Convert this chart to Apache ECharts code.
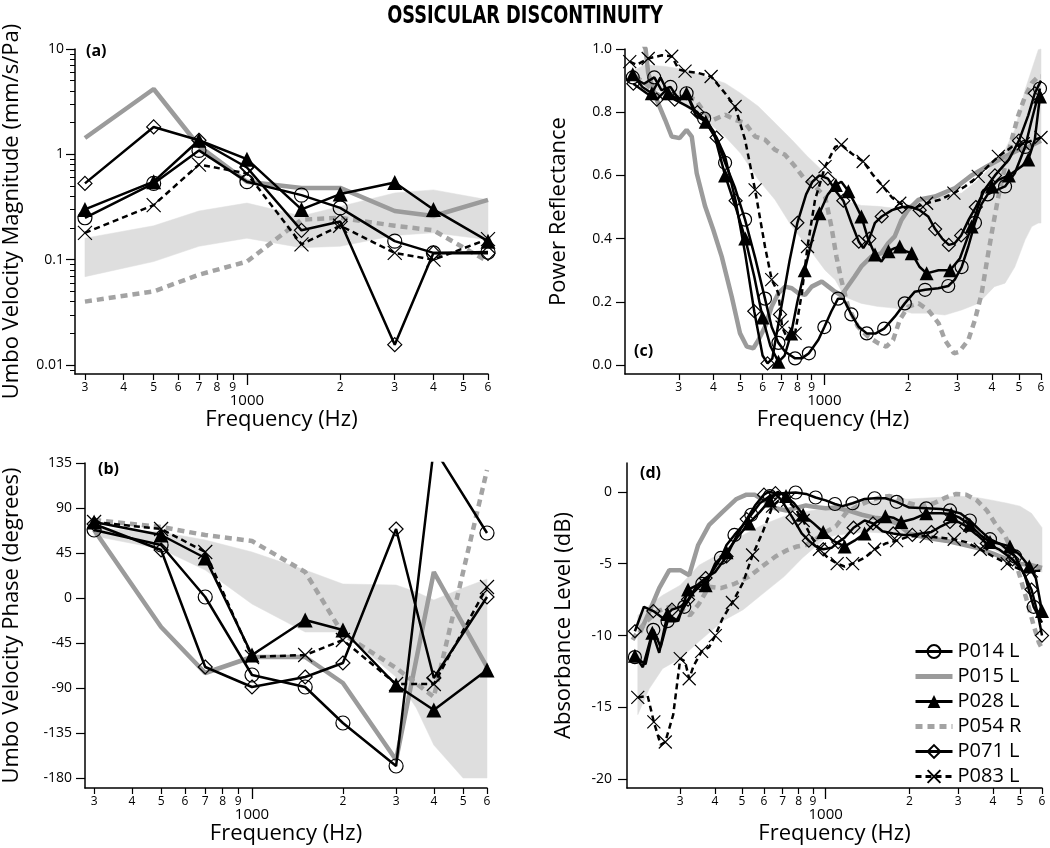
<!DOCTYPE html>
<html><head><meta charset="utf-8">
<script src="https://cdn.jsdelivr.net/npm/echarts@6/dist/echarts.min.js"></script>
<style>html,body{margin:0;padding:0;background:#fff}#c{width:1050px;height:848px}</style>
</head><body><div id="c"></div>
<script>
// ---------------- DATA ----------------
const NAMES = ['P014 L','P015 L','P028 L','P054 R','P071 L','P083 L'];

// x tick labels (Hz)
const tickMinorF = [300,400,500,600,700,800,900,2000,3000,4000,5000,6000];
const tickLabelF = [300,400,500,600,700,800,900,1000,2000,3000,4000,5000,6000];
const tickLabelTxt = ['3','4','5','6','7','8','9','1000','2','3','4','5','6'];
const magTickVal = [0.01,0.1,1,10];
const magTickTxt = ['0.01','0.1','1','10'];
const phaseTicks = [135,90,45,0,-45,-90,-135,-180];
const reflTicks = [0,0.2,0.4,0.6,0.8,1.0];
const absTicks = [0,-5,-10,-15,-20];

// (a) umbo velocity magnitude (mm/s/Pa)
const freqAB = [300,500,700,1000,1500,2000,3000,4000,6000];
const magP014 = [0.25,0.53,1.09,0.55,0.41,0.31,0.15,0.116,0.118];
const magP015 = [1.43,4.17,1.2,0.55,0.48,0.48,0.29,0.26,0.37];
const magP028 = [0.30,0.55,1.36,0.90,0.30,0.42,0.54,0.30,0.15];
const magP054 = [0.040,0.050,0.072,0.096,0.24,0.25,0.21,0.19,0.096];
const magP071 = [0.53,1.82,1.36,0.75,0.19,0.23,0.0156,0.116,0.115];
const magP083 = [0.18,0.33,0.80,0.66,0.14,0.21,0.116,0.10,0.157];
const magBandLow  = [0.069,0.096,0.134,0.16,0.13,0.134,0.17,0.18,0.155];
const magBandHigh = [0.16,0.21,0.29,0.345,0.26,0.32,0.43,0.46,0.37];

// (b) umbo velocity phase (degrees)
const phP014 = [68,53,1,-77,-89,-125,-168,150,65];
const phP015 = [68,-29,-75,-59,-59,-85,-162,26,-69];
const phP028 = [76,63,40,-57,-22,-32,-87,-112,-72];
const phP054 = [78,71,63,57,26,-36,-70,-99,128];
const phP071 = [74,48,-69,-89,-79,-65,69,-80,1];
const phP083 = [76,69,46,-59,-57,-42,-86,-86,11];
const phBandF    = [300,500,700,1000,1500,2000,3000,3500,4000,5000,6000];
const phBandLow  = [62,49,28,-6,-34,-34,-79,-110,-147,-180,-180];
const phBandHigh = [70,66,58,46,28,14,13,6,-2,10,19];

// (c) power reflectance
const cF014 = [205,225,245,260,280,300,320,345,370,400,440,478,519,564,612,647,684,723,785,830,880,952,1000,1060,1120,1170,1250,1330,1420,1530,1640,1790,1945,2113,2300,2565,2786,2940,3112,3289,3475,3673,3860,4080,4457,4830,5260,5559,5950];
const cR014 = [0.91,0.89,0.91,0.87,0.88,0.84,0.86,0.80,0.78,0.74,0.64,0.56,0.46,0.34,0.21,0.12,0.07,0.042,0.021,0.021,0.037,0.08,0.12,0.17,0.21,0.21,0.16,0.12,0.10,0.10,0.115,0.153,0.195,0.232,0.238,0.243,0.25,0.27,0.31,0.375,0.45,0.51,0.54,0.55,0.565,0.607,0.69,0.776,0.875];
const cF015 = [215,228,233,247,268,283,302,320,334,348,373,399,428,465,498,527,556,580,612,647,684,723,764,807,853,901,979,1034,1093,1151,1216,1285,1358,1475,1603,1694,1790,1892,2000,2180,2494,2950,3380,3860,4457,4960,5400,6000];
const cR015 = [1.05,1.0,0.924,0.85,0.776,0.723,0.718,0.744,0.723,0.607,0.502,0.428,0.343,0.216,0.10,0.058,0.053,0.079,0.121,0.185,0.227,0.248,0.243,0.227,0.222,0.248,0.264,0.248,0.232,0.22,0.25,0.28,0.312,0.343,0.354,0.385,0.407,0.459,0.491,0.523,0.533,0.56,0.60,0.63,0.66,0.68,0.69,0.71];
const cF028 = [205,222,240,258,275,300,320,345,375,405,440,480,520,560,600,640,684,720,760,800,850,906,960,1030,1100,1151,1220,1290,1358,1435,1520,1603,1700,1790,1866,1960,2060,2200,2330,2573,2830,3070,3380,3720,4000,4217,4600,5100,5400,5700,5950];
const cR028 = [0.92,0.88,0.86,0.91,0.86,0.84,0.86,0.79,0.77,0.72,0.60,0.50,0.40,0.28,0.15,0.06,0.01,0.03,0.10,0.20,0.30,0.40,0.48,0.54,0.57,0.58,0.55,0.51,0.47,0.40,0.35,0.327,0.36,0.37,0.375,0.36,0.354,0.31,0.29,0.30,0.30,0.338,0.438,0.55,0.565,0.586,0.60,0.628,0.65,0.713,0.85];
const cF054 = [209,227,247,268,291,316,344,373,400,440,478,519,564,612,665,723,785,853,926,1006,1060,1105,1151,1216,1320,1435,1560,1670,1766,1866,2000,2180,2360,2573,2710,2920,3050,3289,3475,3673,3860,4030,4217,4457,4710,4960,5260,5559,5870,6000];
const cR054 = [0.913,0.892,0.861,0.845,0.845,0.850,0.84,0.797,0.776,0.792,0.776,0.766,0.723,0.713,0.681,0.665,0.628,0.586,0.565,0.533,0.438,0.343,0.269,0.185,0.121,0.09,0.069,0.058,0.079,0.143,0.185,0.195,0.174,0.132,0.079,0.037,0.042,0.079,0.143,0.227,0.343,0.438,0.533,0.628,0.713,0.787,0.85,0.892,0.913,0.913];
const cF071 = [206,230,250,270,290,320,350,380,410,440,480,520,560,600,625,650,693,750,800,860,906,960,1030,1100,1170,1250,1330,1380,1450,1520,1607,1750,1900,2050,2200,2360,2500,2650,2800,2940,3100,3300,3500,3800,4100,4600,5000,5400,5700,6000];
const cR071 = [0.89,0.86,0.84,0.87,0.84,0.82,0.80,0.76,0.72,0.66,0.52,0.35,0.17,0.03,0.005,0.02,0.16,0.33,0.45,0.54,0.58,0.60,0.59,0.55,0.52,0.45,0.39,0.37,0.40,0.45,0.47,0.49,0.50,0.50,0.49,0.47,0.43,0.40,0.38,0.385,0.41,0.46,0.50,0.56,0.60,0.65,0.71,0.79,0.86,0.90];
const cF083 = [200,212,233,261,283,300,316,353,392,440,478,519,564,612,647,684,705,740,785,830,870,926,1006,1093,1151,1250,1378,1500,1625,1750,1866,2090,2330,2600,2920,3200,3570,3860,4217,4710,5180,5559,6000];
const cR083 = [0.96,0.95,0.97,0.98,0.977,0.935,0.93,0.924,0.913,0.86,0.818,0.713,0.554,0.375,0.27,0.227,0.12,0.08,0.10,0.227,0.375,0.523,0.628,0.69,0.697,0.67,0.644,0.60,0.565,0.53,0.512,0.496,0.512,0.523,0.544,0.565,0.597,0.628,0.66,0.69,0.70,0.71,0.72];
const cBandF    = [205,227,268,316,373,440,500,580,665,764,870,1006,1093,1183,1358,1560,1790,2060,2360,2710,3112,3570,4080,4457,4830,5260,5559,5870,6000];
const cBandLow  = [0.90,0.882,0.861,0.818,0.776,0.723,0.67,0.586,0.523,0.438,0.375,0.30,0.27,0.216,0.195,0.185,0.18,0.164,0.164,0.158,0.174,0.195,0.248,0.259,0.31,0.396,0.438,0.449,0.449];
const cBandHigh = [0.93,0.95,0.945,0.935,0.913,0.892,0.86,0.818,0.766,0.713,0.66,0.607,0.565,0.52,0.505,0.502,0.496,0.51,0.53,0.54,0.544,0.586,0.639,0.681,0.744,0.871,0.935,0.998,1.0];

// (d) absorbance level (dB)
const dF014 = [206,225,240,255,270,290,310,335,360,390,420,440,470,500,540,580,630,700,780,850,920,1000,1080,1150,1250,1380,1500,1640,1800,2000,2300,2600,2800,3050,3300,3600,3900,4300,4800,5200,5600,6000];
const dA014 = [-11.5,-12.0,-9.6,-10.8,-9.0,-9.0,-8.0,-7.0,-6.4,-5.6,-4.6,-3.7,-3.0,-2.4,-1.6,-0.8,-0.3,-0.1,-0.05,-0.15,-0.4,-0.6,-0.85,-1.0,-0.8,-0.5,-0.45,-0.45,-0.7,-1.1,-1.15,-1.2,-1.3,-1.5,-2.0,-2.7,-3.3,-3.7,-4.5,-5.8,-8.0,-9.1];
const dF015 = [215,232,252,274,300,323,348,381,426,478,519,555,610,660,723,790,850,910,1000,1090,1200,1350,1500,1650,1800,2000,2300,2700,3000,3500,4000,4500,5000,5500,6000];
const dA015 = [-9.8,-8.35,-6.7,-5.45,-5.45,-5.8,-3.7,-2.3,-1.4,-0.5,-0.2,-0.2,-0.7,-1.15,-1.3,-1.1,-0.95,-1.05,-1.15,-1.1,-1.3,-1.6,-1.8,-1.9,-2.2,-2.9,-3.2,-3.4,-3.6,-3.9,-4.3,-4.7,-5.0,-5.1,-5.3];
const dF028 = [206,220,238,252,270,295,320,345,370,400,440,480,530,580,630,672,720,770,830,905,980,1060,1170,1270,1380,1500,1640,1750,1870,2060,2300,2600,2830,3030,3300,3600,3900,4200,4600,5000,5400,5700,6000];
const dA028 = [-11.4,-12.2,-9.8,-11.2,-8.5,-9.0,-6.8,-6.5,-6.5,-5.0,-4.2,-3.2,-2.2,-1.4,-0.6,0,-0.3,-0.8,-1.6,-2.2,-2.8,-3.4,-3.8,-3.4,-2.9,-2.2,-1.7,-1.8,-2.1,-1.9,-1.5,-1.5,-1.55,-1.8,-2.3,-3.0,-3.5,-3.6,-3.8,-4.4,-5.2,-6.0,-8.3];
const dF054 = [202,215,230,250,275,300,325,350,380,420,470,530,590,660,720,790,850,920,1000,1090,1180,1300,1450,1600,1700,1850,2000,2200,2450,2700,2950,3200,3500,3800,4100,4400,4700,5000,5300,5600,5850,6000];
const dA054 = [-10.3,-9.5,-8.9,-8.3,-8.0,-8.1,-8.6,-7.8,-6.6,-6.7,-6.4,-5.9,-5.2,-4.5,-4.1,-3.8,-3.7,-3.3,-2.8,-2.4,-1.5,-1.0,-0.6,-0.35,-0.3,-0.5,-0.8,-1.0,-0.8,-0.4,-0.15,-0.2,-0.6,-1.3,-2.3,-3.0,-4.2,-5.9,-7.6,-9.3,-10.5,-10.9];
const dF071 = [206,222,240,260,280,300,320,345,370,400,440,480,520,560,600,625,660,700,760,820,870,920,980,1050,1110,1170,1260,1380,1480,1600,1750,1900,2050,2200,2400,2600,2800,3000,3200,3500,3800,4200,4700,5100,5500,5800,6000];
const dA071 = [-9.7,-8.0,-8.3,-8.8,-8.2,-8.0,-7.5,-6.5,-6.0,-5.6,-4.5,-3.0,-1.9,-0.9,-0.2,0,-0.1,-0.7,-1.8,-2.9,-3.4,-3.8,-4.0,-3.9,-3.5,-3.2,-2.5,-2.0,-2.2,-2.75,-2.9,-3.0,-3.0,-2.9,-2.8,-2.4,-2.1,-2.1,-2.4,-3.0,-3.6,-4.0,-4.7,-5.5,-6.8,-8.5,-10.0];
const dF083 = [211,229,241,255,265,283,300,312,323,335,358,381,401,426,462,505,546,594,644,690,730,780,830,880,950,1020,1100,1170,1250,1380,1500,1640,1800,2000,2300,2600,2900,3200,3600,4000,4500,5000,5500,6000];
const dA083 = [-14.3,-14.2,-16.0,-17.6,-17.4,-15.5,-11.6,-11.8,-13.0,-12.1,-11.1,-10.8,-10.0,-8.8,-7.7,-6.3,-4.4,-2.8,-1.0,-0.5,-0.6,-1.2,-2.0,-3.0,-4.0,-4.6,-5.0,-5.2,-5.0,-4.6,-4.0,-3.6,-3.4,-3.1,-3.1,-3.2,-3.3,-3.5,-4.0,-4.5,-5.0,-5.4,-5.5,-5.5];
const dBandF    = [211,232,259,300,351,426,505,594,709,825,1000,1100,1400,1700,2000,2500,3000,3500,4000,4500,5000,5500,6000];
const dBandLow  = [-15.5,-13.7,-12.3,-11.6,-10.4,-9.0,-8.2,-7.1,-5.9,-4.6,-3.2,-3.0,-2.8,-2.9,-3.0,-3.2,-3.3,-3.6,-4.0,-4.5,-4.6,-5.0,-5.6];
const dBandHigh = [-8.6,-7.9,-7.2,-6.5,-5.1,-4.2,-3.0,-2.3,-1.7,-1.4,-1.16,-1.0,-0.7,-0.5,-0.5,-0.4,-0.3,-0.4,-0.6,-0.8,-1.0,-1.5,-2.5];

// ---------------- CHART ----------------
const L10 = Math.log10;
const FONT = 'Open Sans';
const XSYM = 'path://M0,0L10,10M10,0L0,10';
const STY = {
  'P014 L': {color:'#000', width:2.5, dash:'solid', symbol:'circle', hollow:true, size:14},
  'P015 L': {color:'#9b9b9b', width:4.5, dash:'solid', symbol:'none'},
  'P028 L': {color:'#000', width:2.5, dash:'solid', symbol:'triangle', hollow:false, size:15},
  'P054 R': {color:'#a3a3a3', width:4.5, dash:[7,5], symbol:'none'},
  'P071 L': {color:'#000', width:2.5, dash:'solid', symbol:'diamond', hollow:true, size:14},
  'P083 L': {color:'#000', width:2.5, dash:[6,4], symbol:XSYM, hollow:true, size:14}
};
function pairs(f, v, ty) { return f.map((x, i) => [L10(x), ty ? ty(v[i]) : v[i]]); }
function mk(name, data, xi, yi, thin) {
  const s = STY[name];
  const sym = thin && s.symbol !== 'none'
    ? (val, p) => (p.dataIndex % 2 === 0 ? s.symbol : 'none') : s.symbol;
  return {
    type:'line', name, data, xAxisIndex:xi, yAxisIndex:yi, smooth:false,
    symbol:sym, symbolSize:(s.size || 0) - (thin ? 1 : 0), showAllSymbol:true, clip:true,
    lineStyle:{color:s.color, width:s.width, type:s.dash},
    itemStyle: s.hollow ? {color:'rgba(255,255,255,0)', borderColor:'#000', borderWidth:1.2}
                        : {color:s.color, borderWidth:0},
    emphasis:{disabled:true}, animation:false, z: s.color === '#000' ? 5 : 3
  };
}
function band(f, lo, hi, xi, yi, ty) {
  const t = ty || (v => v);
  const data = f.map((x, i) => [L10(x), t(lo[i]), t(hi[i])]);
  return {type:'custom', xAxisIndex:xi, yAxisIndex:yi, data, silent:true, z:1, animation:false,
    encode:{x:0, y:[1,2]},
    renderItem:(params, api) => {
      if (params.dataIndex !== 0) return null;
      const top = data.map(d => api.coord([d[0], d[2]]));
      const bot = data.map(d => api.coord([d[0], d[1]])).reverse();
      return {type:'polygon', shape:{points:top.concat(bot)}, style:{fill:'#dedede', stroke:'#dedede', lineWidth:0.5}};
    }};
}
function fmtX(v) {
  let k = 0, best = 1e9;
  tickLabelF.forEach((f, i) => { const d = Math.abs(L10(f) - v); if (d < best) { best = d; k = i; } });
  return tickLabelF[k] === 1000 ? '{k|' + tickLabelTxt[k] + '}' : '{d|' + tickLabelTxt[k] + '}';
}
const AX = {color:'#000', width:1.5};
function xMain(gi, min, gap) {
  return {type:'value', gridIndex:gi, position:'bottom', min, max:L10(6000),
    axisLine:{show:true, onZero:false, lineStyle:AX},
    axisTick:{show:true, customValues:tickMinorF.map(L10), length:6, lineStyle:{color:'#000', width:1.2}},
    axisLabel:{show:true, customValues:tickLabelF.map(L10), margin:8, formatter:fmtX,
      rich:{d:{fontSize:12, fontFamily:FONT, color:'#000'}, k:{fontSize:15, fontFamily:FONT, color:'#000', padding:[11,0,0,0]}}},
    splitLine:{show:false},
    name:'Frequency (Hz)', nameLocation:'middle', nameGap:gap,
    nameTextStyle:{fontSize:22, fontFamily:FONT, color:'#000'}};
}
function xLong(gi, min) {
  return {type:'value', gridIndex:gi, position:'bottom', min, max:L10(6000),
    axisLine:{show:false, onZero:false}, axisTick:{show:true, customValues:[3], length:11, lineStyle:{color:'#000', width:1.3}},
    axisLabel:{show:false}, splitLine:{show:false}};
}
function yMain(gi, min, max, ticks, fmt, name, gap, margin) {
  return {type:'value', gridIndex:gi, position:'left', min, max,
    axisLine:{show:true, onZero:false, lineStyle:AX},
    axisTick:{show:true, customValues:ticks, length:9, lineStyle:{color:'#000', width:1.2}},
    axisLabel:{show:true, customValues:ticks, formatter:fmt, margin, fontSize:14, fontFamily:FONT, color:'#000'},
    splitLine:{show:false},
    name, nameLocation:'middle', nameGap:gap,
    nameTextStyle:{fontSize:22, fontFamily:FONT, color:'#000'}};
}
const minorMag = [];
[0.001,0.01,0.1,1].forEach(d => [2,3,4,5,6,7,8,9].forEach(k => { const v = L10(k*d); if (v > -2.085 && v < 1) minorMag.push(v); }));

const series = [];
series.push(band(freqAB, magBandLow, magBandHigh, 0, 0, L10));
series.push(band(phBandF, phBandLow, phBandHigh, 2, 2));
series.push(band(cBandF, cBandLow, cBandHigh, 4, 3));
series.push(band(dBandF, dBandLow, dBandHigh, 6, 4));
const magAll = {'P014 L':magP014,'P015 L':magP015,'P028 L':magP028,'P054 R':magP054,'P071 L':magP071,'P083 L':magP083};
const phAll  = {'P014 L':phP014,'P015 L':phP015,'P028 L':phP028,'P054 R':phP054,'P071 L':phP071,'P083 L':phP083};
const cAll = {'P014 L':[cF014,cR014],'P015 L':[cF015,cR015],'P028 L':[cF028,cR028],'P054 R':[cF054,cR054],'P071 L':[cF071,cR071],'P083 L':[cF083,cR083]};
const dAll = {'P014 L':[dF014,dA014],'P015 L':[dF015,dA015],'P028 L':[dF028,dA028],'P054 R':[dF054,dA054],'P071 L':[dF071,dA071],'P083 L':[dF083,dA083]};
const order = ['P015 L','P054 R','P014 L','P028 L','P071 L','P083 L'];
order.forEach(n => series.push(mk(n, pairs(freqAB, magAll[n], L10), 0, 0, false)));
order.forEach(n => series.push(mk(n, pairs(freqAB, phAll[n]), 2, 2, false)));
order.forEach(n => series.push(mk(n, pairs(cAll[n][0], cAll[n][1]), 4, 3, true)));
order.forEach(n => series.push(mk(n, pairs(dAll[n][0], dAll[n][1]), 6, 4, true)));

const legendData = NAMES.map(n => {
  const s = STY[n];
  const item = {name:n, lineStyle:{width:s.width + 0.5, color:s.color, type:s.dash}};
  if (s.symbol === 'none') item.itemStyle = {opacity:0, color:'rgba(0,0,0,0)', borderWidth:0};
  return item;
});

const option = {
  backgroundColor:'#fff', animation:false,
  grid:[
    {left:75, top:49, width:413, height:325},
    {left:85, top:463, width:402, height:325},
    {left:625, top:49, width:416, height:325},
    {left:627, top:463, width:415, height:325}
  ],
  xAxis:[
    xMain(0, 2.445, 25), xLong(0, 2.445),
    xMain(1, 2.447, 30), xLong(1, 2.447),
    xMain(2, 2.284, 25), xLong(2, 2.284),
    xMain(3, 2.2855, 30), xLong(3, 2.2855)
  ],
  yAxis:[
    yMain(0, -2.085, 1, magTickVal.map(L10), v => magTickTxt[Math.round(v) + 2], 'Umbo Velocity Magnitude (mm/s/Pa)', 52, 11),
    {type:'value', gridIndex:0, position:'left', min:-2.085, max:1, axisLine:{show:false, onZero:false},
     axisTick:{show:true, customValues:minorMag, length:5, lineStyle:{color:'#000', width:1}},
     axisLabel:{show:false}, splitLine:{show:false}},
    yMain(1, -190, 135, phaseTicks, v => String(v), 'Umbo Velocity Phase (degrees)', 62, 13),
    yMain(2, -0.0285, 1.0, reflTicks, v => v.toFixed(1), 'Power Reflectance', 55, 13),
    yMain(3, -20.6, 2.0, absTicks, v => String(v), 'Absorbance Level (dB)', 52, 15)
  ],
  legend:{data:legendData, orient:'vertical', left:908, top:636, itemWidth:37, itemHeight:16, itemGap:4,
    textStyle:{fontSize:20, fontFamily:FONT, color:'#000', lineHeight:21}, selectedMode:false},
  graphic:[
    {type:'text', x:525, y:4, scaleX:0.79, style:{text:'OSSICULAR DISCONTINUITY', fontSize:25, fontWeight:'bold', fontFamily:"'Liberation Sans Narrow', 'DejaVu Sans Condensed', sans-serif", fill:'#000', textAlign:'center'}},
    {type:'text', x:86, y:43, style:{text:'(a)', fontSize:16, fontWeight:'bold', fontFamily:FONT, fill:'#000'}},
    {type:'text', x:98, y:461, style:{text:'(b)', fontSize:16, fontWeight:'bold', fontFamily:FONT, fill:'#000'}},
    {type:'text', x:634, y:343, style:{text:'(c)', fontSize:16, fontWeight:'bold', fontFamily:FONT, fill:'#000'}},
    {type:'text', x:640, y:465, style:{text:'(d)', fontSize:16, fontWeight:'bold', fontFamily:FONT, fill:'#000'}}
  ],
  series
};
const chart = echarts.init(document.getElementById('c'), null, {renderer:'canvas'});
chart.setOption(option);
</script>
</body></html>
